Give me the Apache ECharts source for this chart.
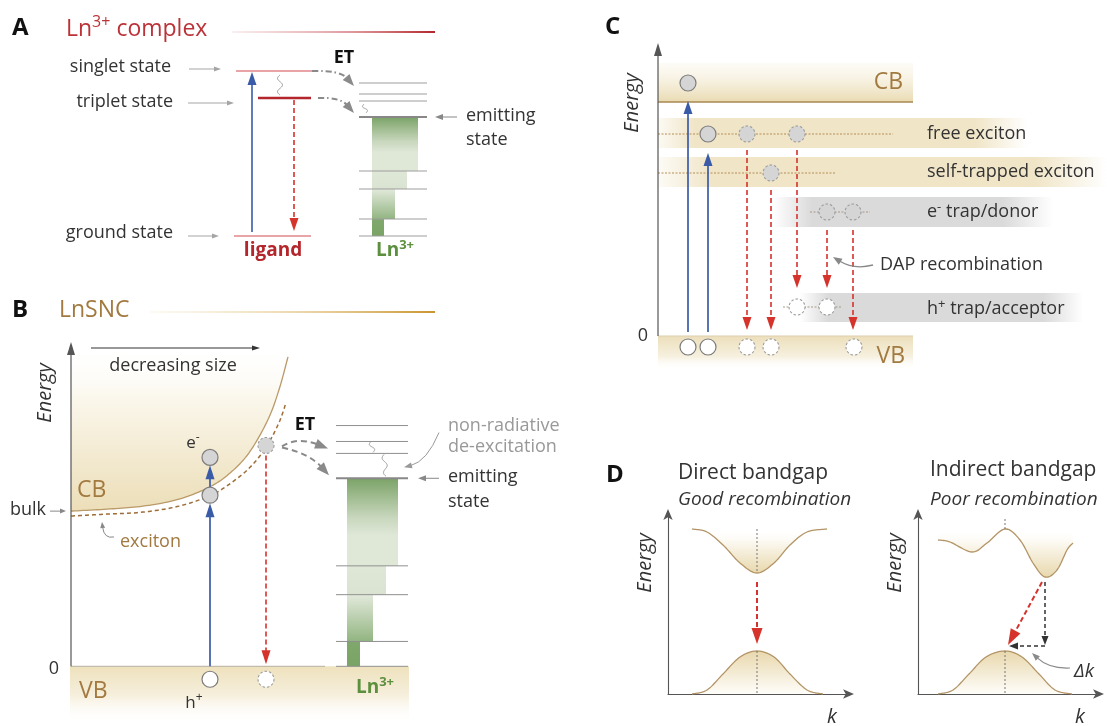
<!DOCTYPE html>
<html>
<head>
<meta charset="utf-8">
<script src="https://cdn.jsdelivr.net/npm/echarts@6.0.0/dist/echarts.min.js"></script>
<style>html,body{margin:0;padding:0;background:#fff;}#chart{width:1107px;height:726px;}</style>
</head>
<body>
<div id="chart"></div>
<script>
// ================= DATA =================
// Panel A - Ln3+ complex (energy above ligand ground state, arbitrary units)
const aLigandStates = ['singlet state', 'triplet state', 'ground state'];
const aLigandE = [165, 138, 0];
const aLnLevelsE = [153, 142, 135, 119, 65, 47, 17, 0];
const aEmittingE = 119;
const aAbsorption = [4, 164];
const aPhosphorescence = [136, 5];
const aISC = [161, 141];
const aTransferFromE = [165, 138];
const aTransferToE = [150, 123];

// Panel B - LnSNC (energy above VB edge)
const bSizeX = [0, 36, 72, 108, 140, 161, 179, 197, 208, 217];
const bCBEdgeE = [156, 158, 161, 168, 181, 196, 216, 248, 278, 311];
const bExcitonX = [0, 36, 72, 108, 140, 161, 179, 195, 208, 215];
const bExcitonE = [151, 153, 155, 161, 172, 185, 200, 220, 245, 265];
const bLnLevelsE = [242, 226, 214, 189, 101, 72, 25, 0];
const bEmittingE = 189;
const bCarriers = [[139, 210, 'e'], [139, 172, 'e'], [195, 222, 'ed'], [139, -13, 'h'], [195, -13, 'hd']];
const bExcitation = [[139, 0, 164], [139, 180, 202]];
const bRecombination = [[195, 212, 2]];

// Panel C - band diagram with excitons and traps
const cBandNames = ['CB', 'free exciton', 'self-trapped exciton', 'e⁻ trap/donor', 'h⁺ trap/acceptor', 'VB'];
const cBandLowE = [234, 188, 149, 109, 14, -34];
const cBandHighE = [273, 218, 179, 139, 43, 0];
const cLevelE = [202, 163, 124, 29];
const cCarriers = [[30, 253, 'e'], [50, 202, 'e'], [89, 202, 'ed'], [139, 202, 'ed'], [113, 163, 'ed'],
  [169, 124, 'ed'], [195, 124, 'ed'], [139, 29, 'hd'], [169, 29, 'hd'],
  [30, -11, 'h'], [50, -11, 'h'], [89, -11, 'hd'], [113, -11, 'hd'], [196, -11, 'hd']];
const cExcitation = [[30, 4, 235], [50, 4, 183]];
const cRecombination = [[89, 186, 6], [113, 146, 6], [139, 186, 48], [169, 106, 48], [195, 106, 6]];

// Panel D - E(k) band structures
const dDirectCB = [[24, 165], [39, 162], [55, 149], [72, 131], [89, 121], [106, 131], [122, 149], [139, 162], [159, 165]];
const dDirectVB = [[24, 0], [39, 4], [55, 20], [72, 37], [89, 43], [106, 37], [122, 20], [139, 4], [155, 0]];
const dIndirectCB = [[20, 154], [32, 152], [54, 142], [69, 151], [87, 165], [102, 154], [115, 131], [127, 117], [139, 124], [149, 144], [155, 151]];
const dIndirectVB = [[20, 0], [35, 4], [51, 20], [68, 37], [87, 43], [104, 37], [121, 20], [137, 4], [154, 0]];

// ================= LAYOUT / STYLE =================
const FONT = '"Open Sans", "Noto Sans", sans-serif';
const DARK = '#333';
const RED = '#bb3338';
const TAN = '#a27a40';
const GREEN = '#5c8f3e';
const BLUE = '#3a5ca8';
const DRED = '#d5332b';
const LGRAY = '#a5a5a5';

const gridBoxes = [
  {left: 200, top: 36, width: 200, height: 200},
  {left: 0, top: 340, width: 491, height: 388},
  {left: 590, top: 40, width: 517, height: 330},
  {left: 668, top: 513, width: 182, height: 181},
  {left: 918, top: 513, width: 182, height: 181}
];
const xr = [[0, 200], [-71, 420], [-68, 449], [0, 182], [0, 182]];
const yr = [[0, 200], [-60, 328], [-34, 296], [0, 181], [0, 181]];

const LA = {lig: [[36, 112], [58, 111], [34, 111]], ligW: [1.2, 2.6, 1.2], ligC: ['#d24a4f', '#b3262c', '#d24a4f'],
  ln: [159, 227], stepL: 172, stepR: [218, 207, 195, 184], absX: 52, isX: 80, phX: 94,
  trFromX: [112, 118], trCtrl: [[140, 166], [140, 139]], trToX: [154, 154],
  ptr: [[-11, 21, 167], [-12, 34, 133], [-12, 19, 0]], emitPtr: [257, 235], lnWave: [[164, 132], [166, 123]]};
const LB = {ln: [265, 337], stepL: 276, stepR: [327, 315, 302, 289], vb: [-1, 338, -58], base: [0, 254],
  axisTop: 326, sizeArrow: [20, 189, 320], bulkPtr: [-21, -5],
  et: [[211, 221, 226, 231, 257, 219], [211, 220, 238, 214, 258, 192]],
  waves: [[[300, 226], [302, 215]], [[313, 213], [315, 191]]],
  nrArrow: [[368, 235], [356, 206], [333, 200]], emitPtr: [368, 347], excArrow: [[43, 130], [33, 128], [31, 145]]};
const LC = {bandX: [[0, 255], [0, 369], [0, 449], [115, 395], [142, 425], [0, 255]],
  levelX: [[0, 235], [0, 177], [152, 212], [125, 184]], axisTop: 293,
  dap: [[215, 71], [196, 66], [175, 79]]};
const LD = {dot1: 89, dot2: 87, red1: [[89, 112], [89, 50]], red2: [[124, 112], [90, 49]],
  blk: [[127, 112], [127, 49], [127, 48], [91, 48]], dk: [[152, 26], [131, 25], [114, 41]]};

// ================= HELPERS =================
function seg(p1, p2, st) {
  return {type: 'line', shape: {x1: p1[0], y1: p1[1], x2: p2[0], y2: p2[1]}, style: Object.assign({fill: null}, st)};
}
function head(tip, dir, hl, hw, color) {
  const L = Math.hypot(dir[0], dir[1]), ux = dir[0] / L, uy = dir[1] / L;
  const bx = tip[0] - ux * hl, by = tip[1] - uy * hl;
  return {type: 'polygon', shape: {points: [[tip[0], tip[1]], [bx - uy * hw / 2, by + ux * hw / 2], [bx + uy * hw / 2, by - ux * hw / 2]]},
    style: {fill: color}};
}
function arrow(p1, p2, o) {
  const dx = p2[0] - p1[0], dy = p2[1] - p1[1], L = Math.hypot(dx, dy), ux = dx / L, uy = dy / L;
  const base = [p2[0] - ux * o.hl * 0.85, p2[1] - uy * o.hl * 0.85];
  const st = {stroke: o.color, lineWidth: o.w};
  if (o.dash) st.lineDash = o.dash;
  return {type: 'group', children: [seg(p1, base, st), head(p2, [dx, dy], o.hl, o.hw, o.color)]};
}
function carrow(p1, c, p2, o) {
  const dir = [p2[0] - c[0], p2[1] - c[1]], L = Math.hypot(dir[0], dir[1]), ux = dir[0] / L, uy = dir[1] / L;
  const base = [p2[0] - ux * o.hl * 0.85, p2[1] - uy * o.hl * 0.85];
  const st = {stroke: o.color, lineWidth: o.w, fill: null};
  if (o.dash) st.lineDash = o.dash;
  return {type: 'group', children: [
    {type: 'bezierCurve', shape: {x1: p1[0], y1: p1[1], cpx1: c[0], cpy1: c[1], x2: base[0], y2: base[1]}, style: st},
    head(p2, dir, o.hl, o.hw, o.color)]};
}
function squiggle(p1, p2, amp, waves, st) {
  const dx = p2[0] - p1[0], dy = p2[1] - p1[1], L = Math.hypot(dx, dy), ux = dx / L, uy = dy / L;
  const pts = [];
  for (let i = 0; i <= 40; i++) {
    const t = i / 40, s = Math.sin(t * waves * 2 * Math.PI) * amp;
    pts.push([p1[0] + dx * t - uy * s, p1[1] + dy * t + ux * s]);
  }
  return {type: 'polyline', shape: {points: pts}, style: Object.assign({fill: null}, st)};
}
function smoothPts(pts, n) {
  n = n || 10;
  const out = [];
  for (let i = 0; i < pts.length - 1; i++) {
    const p0 = pts[Math.max(i - 1, 0)], p1 = pts[i], p2 = pts[i + 1], p3 = pts[Math.min(i + 2, pts.length - 1)];
    for (let j = 0; j < n; j++) {
      const t = j / n, t2 = t * t, t3 = t2 * t;
      const f = k => 0.5 * (2 * p1[k] + (-p0[k] + p2[k]) * t + (2 * p0[k] - 5 * p1[k] + 4 * p2[k] - p3[k]) * t2 + (-p0[k] + 3 * p1[k] - 3 * p2[k] + p3[k]) * t3);
      out.push([f(0), f(1)]);
    }
  }
  out.push(pts[pts.length - 1].slice());
  return out;
}
function rect(p1, p2, fill) {
  const x = Math.min(p1[0], p2[0]), y = Math.min(p1[1], p2[1]);
  return {type: 'rect', shape: {x: x, y: y, width: Math.abs(p2[0] - p1[0]), height: Math.abs(p2[1] - p1[1])}, style: {fill: fill}};
}
function vgrad(stops) { return new echarts.graphic.LinearGradient(0, 0, 0, 1, stops.map(s => ({offset: s[0], color: s[1]}))); }
function hgrad(stops) { return new echarts.graphic.LinearGradient(0, 0, 1, 0, stops.map(s => ({offset: s[0], color: s[1]}))); }
const CIRC = {
  e: {fill: '#d5d5d5', stroke: '#7d7d7d', lineWidth: 1.2},
  ed: {fill: '#d5d5d5', stroke: '#9a9a9a', lineWidth: 1.1, lineDash: [2.5, 2]},
  h: {fill: '#fff', stroke: '#7a7a7a', lineWidth: 1.2},
  hd: {fill: '#fff', stroke: '#9a9a9a', lineWidth: 1.1, lineDash: [2.5, 2]}
};
function circ(p, kind) { return {type: 'circle', shape: {cx: p[0], cy: p[1], r: 8}, style: Object.assign({}, CIRC[kind])}; }

const stepGrads = [
  [[0, '#7ba367'], [0.45, '#c8d7bd'], [0.65, '#dfe7d7'], [1, '#dfe7d7']],
  [[0, '#dfe7d7'], [1, '#dae3d1']],
  [[0, '#e2e9db'], [1, '#92b581']],
  [[0, '#80a86c'], [1, '#7aa366']]
];
function lnColumn(c, levels, emitE, lx, stepL, stepR, lineColor) {
  const els = [];
  const ei = levels.indexOf(emitE);
  for (let i = 0; i < stepR.length; i++) {
    els.push(rect(c([stepL, levels[ei + i]]), c([stepR[i], levels[ei + i + 1]]), vgrad(stepGrads[i])));
  }
  levels.forEach(e => {
    const em = e === emitE;
    els.push(seg(c([lx[0], e]), c([lx[1], e]), {stroke: em ? '#888' : lineColor, lineWidth: em ? 2 : 1}));
  });
  return els;
}

// ================= PANEL BUILDERS =================
function buildA(c) {
  const els = [];
  els.push(...lnColumn(c, aLnLevelsE, aEmittingE, LA.ln, LA.stepL, LA.stepR, '#9d9d9d'));
  aLigandE.forEach((e, i) => els.push(seg(c([LA.lig[i][0], e]), c([LA.lig[i][1], e]), {stroke: LA.ligC[i], lineWidth: LA.ligW[i]})));
  els.push(arrow(c([LA.absX, aAbsorption[0]]), c([LA.absX, aAbsorption[1]]), {color: BLUE, w: 1.6, hl: 13, hw: 9}));
  els.push(arrow(c([LA.phX, aPhosphorescence[0]]), c([LA.phX, aPhosphorescence[1]]), {color: DRED, w: 1.6, dash: [5, 3], hl: 13, hw: 9}));
  els.push(squiggle(c([LA.isX, aISC[0]]), c([LA.isX, aISC[1]]), 2.5, 1.5, {stroke: '#999', lineWidth: 1}));
  els.push(squiggle(c(LA.lnWave[0]), c(LA.lnWave[1]), 2, 1, {stroke: '#999', lineWidth: 1}));
  for (let i = 0; i < 2; i++) {
    els.push(carrow(c([LA.trFromX[i], aTransferFromE[i]]), c(LA.trCtrl[i]), c([LA.trToX[i], aTransferToE[i]]),
      {color: '#8a8a8a', w: 2, dash: [6, 3, 1.5, 3], hl: 12, hw: 9}));
  }
  const pe = [aLigandE[0] + 2, aLigandE[1] - 5, aLigandE[2]];
  LA.ptr.forEach((p, i) => els.push(arrow(c([p[0], pe[i]]), c([p[1], pe[i]]), {color: LGRAY, w: 1, hl: 7, hw: 5})));
  els.push(arrow(c([LA.emitPtr[0], aEmittingE]), c([LA.emitPtr[1], aEmittingE]), {color: '#888', w: 1, hl: 8, hw: 6}));
  return els;
}
function buildB(c) {
  const els = [];
  els.push(rect(c([LB.vb[0], 0]), c([LB.vb[1], LB.vb[2]]), vgrad([[0, '#eee1bd'], [0.5, '#f6efdc'], [1, 'rgba(255,255,255,0)']])));
  const cb = smoothPts(bSizeX.map((x, i) => c([x, bCBEdgeE[i]])), 12);
  const topE = 326;
  const poly = cb.concat([c([bSizeX[bSizeX.length - 1], topE]), c([0, topE])]);
  els.push({type: 'polygon', shape: {points: poly}, style: {fill: vgrad([[0, 'rgba(255,255,255,0)'], [0.35, '#faf6ea'], [1, '#ecdeb8']])}});
  els.push({type: 'polyline', shape: {points: cb}, style: {stroke: '#b99a68', lineWidth: 1.3, fill: null}});
  const ex = smoothPts(bExcitonX.map((x, i) => c([x, bExcitonE[i]])), 12);
  els.push({type: 'polyline', shape: {points: ex}, style: {stroke: '#9e6c36', lineWidth: 1.5, lineDash: [4, 3], fill: null}});
  els.push(seg(c([LB.base[0], 0]), c([LB.base[1], 0]), {stroke: '#c2bcad', lineWidth: 1.3}));
  els.push(...lnColumn(c, bLnLevelsE, bEmittingE, LB.ln, LB.stepL, LB.stepR, '#8f8f8f'));
  els.push(arrow(c([0, 0]), c([0, LB.axisTop]), {color: '#555', w: 1.2, hl: 13, hw: 8}));
  els.push(arrow(c([LB.sizeArrow[0], LB.sizeArrow[2]]), c([LB.sizeArrow[1], LB.sizeArrow[2]]), {color: '#333', w: 1.1, hl: 8, hw: 5}));
  els.push(arrow(c([LB.bulkPtr[0], bCBEdgeE[0]]), c([LB.bulkPtr[1], bCBEdgeE[0]]), {color: '#888', w: 1, hl: 6, hw: 5}));
  els.push(carrow(c(LB.excArrow[0]), c(LB.excArrow[1]), c(LB.excArrow[2]), {color: '#888', w: 1, hl: 6, hw: 5}));
  bExcitation.forEach(a => els.push(arrow(c([a[0], a[1]]), c([a[0], a[2]]), {color: BLUE, w: 1.7, hl: 14, hw: 9})));
  bRecombination.forEach(a => els.push(arrow(c([a[0], a[1]]), c([a[0], a[2]]), {color: DRED, w: 1.6, dash: [5, 3], hl: 14, hw: 9})));
  bCarriers.forEach(p => els.push(circ(c([p[0], p[1]]), p[2])));
  LB.et.forEach(t => els.push(carrow(c([t[0], t[1]]), c([t[2], t[3]]), c([t[4], t[5]]), {color: '#8a8a8a', w: 2, dash: [6, 4], hl: 13, hw: 10})));
  LB.waves.forEach(w => els.push(squiggle(c(w[0]), c(w[1]), 2.2, w[0][1] - w[1][1] > 15 ? 1.5 : 1, {stroke: '#999', lineWidth: 1})));
  els.push(carrow(c(LB.nrArrow[0]), c(LB.nrArrow[1]), c(LB.nrArrow[2]), {color: '#999', w: 1, hl: 8, hw: 6}));
  els.push(arrow(c([LB.emitPtr[0], bEmittingE]), c([LB.emitPtr[1], bEmittingE]), {color: '#888', w: 1, hl: 8, hw: 6}));
  return els;
}
function buildC(c) {
  const els = [];
  const tanF = '#f0e5c7', grayF = '#dadada';
  const fills = [
    vgrad([[0, 'rgba(250,246,234,0.4)'], [1, '#e9dab1']]),
    hgrad([[0, 'rgba(240,229,199,0.2)'], [0.1, tanF], [0.86, tanF], [1, 'rgba(240,229,199,0)']]),
    hgrad([[0, 'rgba(240,229,199,0.15)'], [0.12, tanF], [0.84, tanF], [1, 'rgba(240,229,199,0)']]),
    hgrad([[0, 'rgba(218,218,218,0)'], [0.14, grayF], [0.82, grayF], [1, 'rgba(218,218,218,0)']]),
    hgrad([[0, 'rgba(218,218,218,0)'], [0.1, grayF], [0.86, grayF], [1, 'rgba(218,218,218,0)']]),
    vgrad([[0, '#ecdfbb'], [0.6, '#f6f0df'], [1, 'rgba(255,255,255,0)']])
  ];
  cBandNames.forEach((n, i) => els.push(rect(c([LC.bandX[i][0], cBandLowE[i]]), c([LC.bandX[i][1], cBandHighE[i]]), fills[i])));
  els.push(seg(c([0, cBandLowE[0]]), c([LC.bandX[0][1], cBandLowE[0]]), {stroke: '#a8874f', lineWidth: 1.5}));
  els.push(seg(c([0, 0]), c([LC.bandX[5][1], 0]), {stroke: '#ddd0ad', lineWidth: 1.2}));
  const lc = ['#b58d55', '#b58d55', '#a69a88', '#a69a88'];
  cLevelE.forEach((e, i) => els.push(seg(c([LC.levelX[i][0], e]), c([LC.levelX[i][1], e]), {stroke: lc[i], lineWidth: 1, lineDash: [2, 1.5]})));
  els.push(arrow(c([0, 0]), c([0, LC.axisTop]), {color: '#555', w: 1.2, hl: 13, hw: 8}));
  cExcitation.forEach(a => els.push(arrow(c([a[0], a[1]]), c([a[0], a[2]]), {color: BLUE, w: 1.7, hl: 13, hw: 9})));
  cRecombination.forEach(a => els.push(arrow(c([a[0], a[1]]), c([a[0], a[2]]), {color: DRED, w: 1.6, dash: [5, 3], hl: 13, hw: 9})));
  cCarriers.forEach(p => els.push(circ(c([p[0], p[1]]), p[2])));
  els.push(carrow(c(LC.dap[0]), c(LC.dap[1]), c(LC.dap[2]), {color: '#888', w: 1.3, hl: 9, hw: 7}));
  return els;
}
function bandFills(c, cbPts, vbPts, cbTop) {
  const els = [];
  const cb = smoothPts(cbPts.map(p => c(p)), 12);
  const vb = smoothPts(vbPts.map(p => c(p)), 12);
  const cbPoly = cb.concat([c([cbPts[cbPts.length - 1][0], cbTop]), c([cbPts[0][0], cbTop])]);
  els.push({type: 'polygon', shape: {points: cbPoly}, style: {fill: vgrad([[0, 'rgba(255,255,255,0)'], [0.3, '#fbf8ef'], [1, '#e8d8ad']])}});
  const vbPoly = vb.concat([c([vbPts[vbPts.length - 1][0], 0]), c([vbPts[0][0], 0])]);
  els.push({type: 'polygon', shape: {points: vbPoly}, style: {fill: vgrad([[0, '#e8d8ad'], [0.7, '#f8f2e3'], [1, '#fffefa']])}});
  els.push({type: 'polyline', shape: {points: cb}, style: {stroke: '#b39466', lineWidth: 1.3, fill: null}});
  els.push({type: 'polyline', shape: {points: vb}, style: {stroke: '#b39466', lineWidth: 1.3, fill: null}});
  return els;
}
function buildD1(c) {
  const els = bandFills(c, dDirectCB, dDirectVB, 165);
  const cbMin = Math.min(...dDirectCB.map(p => p[1])), vbMax = Math.max(...dDirectVB.map(p => p[1]));
  const dot = {stroke: '#777', lineWidth: 1, lineDash: [2, 2]};
  els.push(seg(c([LD.dot1, 165]), c([LD.dot1, cbMin]), dot));
  els.push(seg(c([LD.dot1, vbMax]), c([LD.dot1, 0]), dot));
  els.push(arrow(c(LD.red1[0]), c(LD.red1[1]), {color: DRED, w: 2, dash: [5, 3], hl: 16, hw: 11}));
  return els;
}
function buildD2(c) {
  const els = bandFills(c, dIndirectCB, dIndirectVB, 162);
  const vbMax = Math.max(...dIndirectVB.map(p => p[1]));
  const dot = {stroke: '#777', lineWidth: 1, lineDash: [2, 2]};
  els.push(seg(c([LD.dot2, 175]), c([LD.dot2, 165]), dot));
  els.push(seg(c([LD.dot2, vbMax]), c([LD.dot2, 0]), dot));
  els.push(arrow(c(LD.blk[0]), c(LD.blk[1]), {color: '#333', w: 1.5, dash: [4, 3], hl: 9, hw: 7}));
  els.push(arrow(c(LD.blk[2]), c(LD.blk[3]), {color: '#333', w: 1.5, dash: [4, 3], hl: 9, hw: 7}));
  els.push(arrow(c(LD.red2[0]), c(LD.red2[1]), {color: DRED, w: 2, dash: [5, 3], hl: 16, hw: 11}));
  els.push(carrow(c(LD.dk[0]), c(LD.dk[1]), c(LD.dk[2]), {color: '#8a8a8a', w: 1.2, hl: 8, hw: 6}));
  return els;
}

function panelSeries(gi, build) {
  return {
    type: 'custom', coordinateSystem: 'cartesian2d', xAxisIndex: gi, yAxisIndex: gi,
    silent: true, animation: false, clip: false, z: 2,
    data: [[xr[gi][0], yr[gi][0]]],
    renderItem: (params, api) => ({type: 'group', children: build(v => api.coord(v))})
  };
}

// ================= TEXT =================
function rt(s, fs, color, weight, style) {
  const parts = s.split(/\^\{([^}]*)\}/);
  let txt = '';
  parts.forEach((p, i) => { if (p) txt += '{' + (i % 2 ? 's' : 'n') + '|' + p + '}'; });
  const base = {fontSize: fs, fontFamily: FONT, fontWeight: weight || 'normal', fontStyle: style || 'normal', fill: color};
  return {text: txt, rich: {
    n: Object.assign({}, base, {lineHeight: Math.round(fs * 1.3)}),
    s: Object.assign({}, base, {fontSize: Math.round(fs * 0.7), lineHeight: Math.round(fs * 0.9), verticalAlign: 'top'})
  }};
}
function T(x, y, s, fs, color, align, weight, style, rot) {
  return {type: 'text', x: x, y: y, rotation: rot || 0, silent: true, z: 100,
    style: Object.assign(rt(s, fs, color, weight, style), {align: align || 'left', verticalAlign: 'middle'})};
}
const R90 = Math.PI / 2;
const texts = [
  T(12, 28, 'A', 24, '#111', 'left', 'bold'),
  T(66, 29, 'Ln^{3+} complex', 23, RED),
  T(171, 67, aLigandStates[0], 18, DARK, 'right'),
  T(173, 102, aLigandStates[1], 18, DARK, 'right'),
  T(173, 233, aLigandStates[2], 18, DARK, 'right'),
  T(344, 58, 'ET', 18, '#111', 'center', 'bold'),
  T(273, 251, 'ligand', 19, '#b3262c', 'center', 'bold'),
  T(466, 116, 'emitting', 18, DARK),
  T(466, 140, 'state', 18, DARK),
  T(395, 251, 'Ln^{3+}', 19, GREEN, 'center', 'bold'),

  T(12, 310, 'B', 24, '#111', 'left', 'bold'),
  T(59, 310, 'LnSNC', 23, TAN),
  T(45, 393, 'Energy', 20, DARK, 'center', 'normal', 'italic', R90),
  T(173, 366, 'decreasing size', 18, DARK, 'center'),
  T(46, 510, 'bulk', 18, DARK, 'right'),
  T(77, 490, 'CB', 23, TAN),
  T(120, 542, 'exciton', 18, TAN),
  T(193, 443, 'e^{-}', 17, DARK, 'center'),
  T(54, 669, '0', 18, DARK, 'center'),
  T(79, 691, 'VB', 23, TAN),
  T(194, 703, 'h^{+}', 17, DARK, 'center'),
  T(305, 425, 'ET', 18, '#111', 'center', 'bold'),
  T(448, 426, 'non-radiative', 18, '#999'),
  T(448, 447, 'de-excitation', 18, '#999'),
  T(448, 477, 'emitting', 18, DARK),
  T(448, 502, 'state', 18, DARK),
  T(375, 688, 'Ln^{3+}', 19, GREEN, 'center', 'bold'),

  T(605, 27, 'C', 24, '#111', 'left', 'bold'),
  T(632, 103, 'Energy', 20, DARK, 'center', 'normal', 'italic', R90),
  T(643, 336, '0', 18, DARK, 'center'),
  T(903, 82, 'CB', 23, TAN, 'right'),
  T(905, 356, 'VB', 23, TAN, 'right'),
  T(927, 134, cBandNames[1], 18, DARK),
  T(927, 172, cBandNames[2], 18, DARK),
  T(927, 212, 'e^{-} trap/donor', 18, DARK),
  T(880, 265, 'DAP recombination', 18, DARK),
  T(927, 309, 'h^{+} trap/acceptor', 18, DARK),

  T(606, 475, 'D', 24, '#111', 'left', 'bold'),
  T(678, 473, 'Direct bandgap', 21, DARK),
  T(678, 500, 'Good recombination', 19, DARK, 'left', 'normal', 'italic'),
  T(645, 563, 'Energy', 20, DARK, 'center', 'normal', 'italic', R90),
  T(832, 717, 'k', 20, DARK, 'center', 'normal', 'italic'),
  T(930, 470, 'Indirect bandgap', 21, DARK),
  T(930, 500, 'Poor recombination', 19, DARK, 'left', 'normal', 'italic'),
  T(895, 563, 'Energy', 20, DARK, 'center', 'normal', 'italic', R90),
  T(1080, 717, 'k', 20, DARK, 'center', 'normal', 'italic'),
  T(1084, 672, 'Δk', 19, DARK, 'center', 'normal', 'italic')
];
const titleBars = [
  {type: 'rect', silent: true, z: 100, shape: {x: 232, y: 31, width: 203, height: 2},
    style: {fill: hgrad([[0, 'rgba(215,120,125,0.12)'], [0.6, 'rgba(200,80,85,0.6)'], [1, '#b3262c']])}},
  {type: 'rect', silent: true, z: 100, shape: {x: 150, y: 311, width: 285, height: 2},
    style: {fill: hgrad([[0, 'rgba(235,210,150,0.1)'], [0.6, 'rgba(215,175,90,0.6)'], [1, '#c99530']])}}
];

// ================= CHART =================
const chart = echarts.init(document.getElementById('chart'), null, {renderer: 'canvas', width: 1107, height: 726});
function axis(i, dim) {
  const show = i >= 3;
  const r = dim === 'x' ? xr[i] : yr[i];
  return {type: 'value', gridIndex: i, min: r[0], max: r[1], show: show,
    axisLine: {show: show, onZero: false, symbol: ['none', 'arrow'], symbolSize: [7, 11], symbolOffset: [0, 4], lineStyle: {color: '#555', width: 1.1}},
    axisTick: {show: false}, axisLabel: {show: false}, splitLine: {show: false}};
}
chart.setOption({
  animation: false,
  backgroundColor: '#fff',
  grid: gridBoxes,
  xAxis: gridBoxes.map((g, i) => axis(i, 'x')),
  yAxis: gridBoxes.map((g, i) => axis(i, 'y')),
  series: [panelSeries(0, buildA), panelSeries(1, buildB), panelSeries(2, buildC), panelSeries(3, buildD1), panelSeries(4, buildD2)],
  graphic: {elements: titleBars.concat(texts)}
});
</script>
</body>
</html>
